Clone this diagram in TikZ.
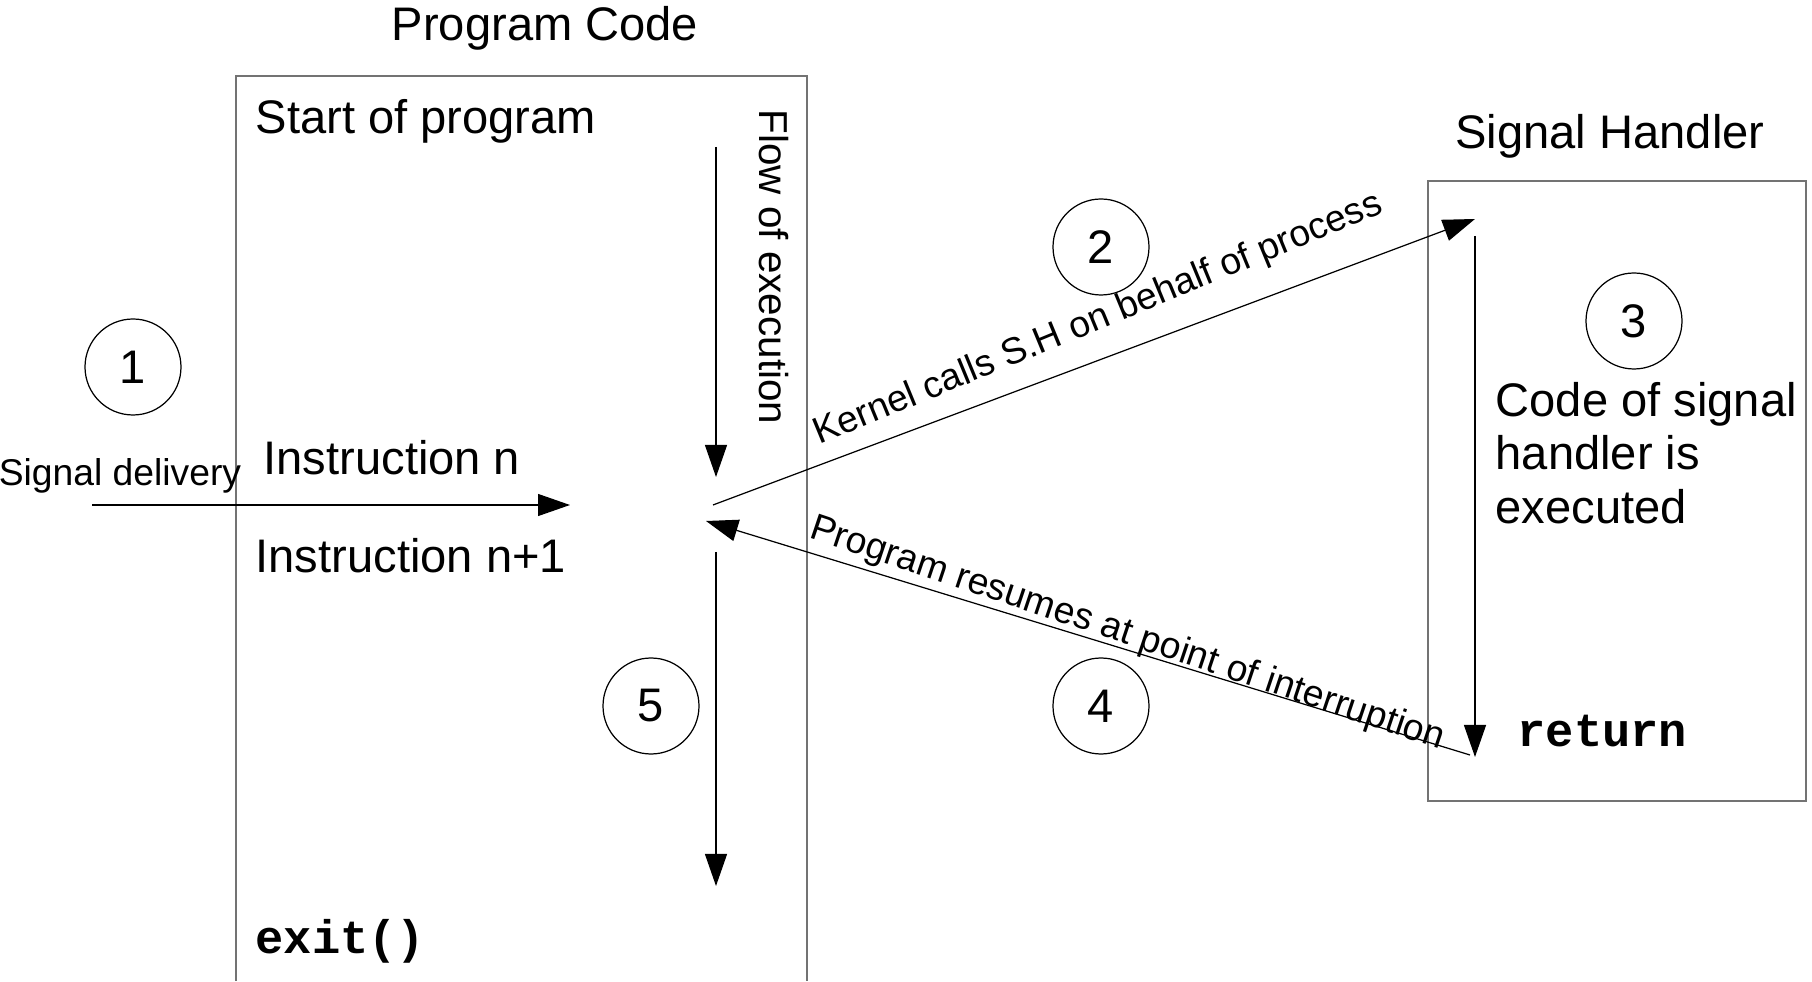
\documentclass[tikz,border=0pt]{standalone}
\usepackage{fontspec}
\setmainfont{Liberation Sans}
\setmonofont{Liberation Mono}
\usetikzlibrary{arrows.meta}

\begin{document}
\begin{tikzpicture}[x=1cm,y=1cm,
  every node/.style={font=\fontsize{13.4}{15.2}\selectfont, inner sep=0pt},
  frame/.style={draw=black!55, line width=0.45pt},
  flow/.style={draw, line width=0.35pt, -{Triangle[length=0.32cm,width=0.22cm]}},
  stepnum/.style={draw, circle, minimum size=0.96cm, line width=0.35pt},
  small/.style={font=\fontsize{10.6}{12}\selectfont},
  code/.style={font=\fontsize{13.4}{15.2}\selectfont\ttfamily\bfseries}]
  \useasboundingbox (0,0) rectangle (18.12,9.81);

  \draw[frame] (2.36,0) |- (8.07,9.05) -- (8.07,0);
  \node[frame, minimum width=3.78cm, minimum height=6.20cm] (handler) at (16.17,4.90) {};

  \node (progtitle) at (5.45,9.53) {Program Code};
  \node (handtitle) at (16.10,8.45) {Signal Handler};
  \node[anchor=west] (start) at (2.55,8.60) {Start of program};
  \node[anchor=west] (instn) at (2.63,5.23) {Instruction n};
  \node[anchor=west] (instnext) at (2.55,4.25) {Instruction n+1};
  \node[code, anchor=west] (exitcall) at (2.55,0.40) {exit()};
  \node[code, anchor=west] (ret) at (15.17,2.50) {return};
  \node[anchor=west, align=left] (shcode) at (14.95,5.28) {Code of signal\\handler is\\executed};
  \node[small] (sigdel) at (1.20,5.05) {Signal delivery};
  \node[rotate=-90, font=\fontsize{11.5}{13}\selectfont] (flowlbl) at (7.74,7.14) {Flow of execution};

  \node[stepnum] (s1) at (1.33,6.14) {1};
  \node[stepnum] (s2) at (11.01,7.34) {2};
  \node[stepnum] (s3) at (16.34,6.60) {3};
  \node[stepnum] (s4) at (11.01,2.75) {4};
  \node[stepnum] (s5) at (6.51,2.75) {5};

  \coordinate (sigfrom) at (0.92,4.76);
  \coordinate (sigto) at (5.70,4.76);
  \coordinate (flowtop) at (7.16,8.34);
  \coordinate (flowmid) at (7.16,5.04);
  \coordinate (resume) at (7.16,4.29);
  \coordinate (flowend) at (7.16,0.95);
  \coordinate (ktail) at (7.13,4.76);
  \coordinate (khead) at (14.75,7.62);
  \coordinate (htop) at (14.75,7.45);
  \coordinate (hbot) at (14.75,2.24);
  \coordinate (rtail) at (14.70,2.26);
  \coordinate (rhead) at (7.06,4.60);

  \draw[flow] (sigfrom) -- (sigto);
  \draw[flow] (flowtop) -- (flowmid);
  \draw[flow] (resume) -- (flowend);
  \draw[flow] (htop) -- (hbot);
  \draw[flow] (ktail) -- node[small, sloped, pos=0.524, above=0.2cm, rotate=1.8] (klbl) {Kernel calls S.H on behalf of process} (khead);
  \draw[flow] (rtail) -- node[small, sloped, pos=0.455, above=-0.03cm, rotate=-1.5] (rlbl) {Program resumes at point of interruption} (rhead);
\end{tikzpicture}
\end{document}
